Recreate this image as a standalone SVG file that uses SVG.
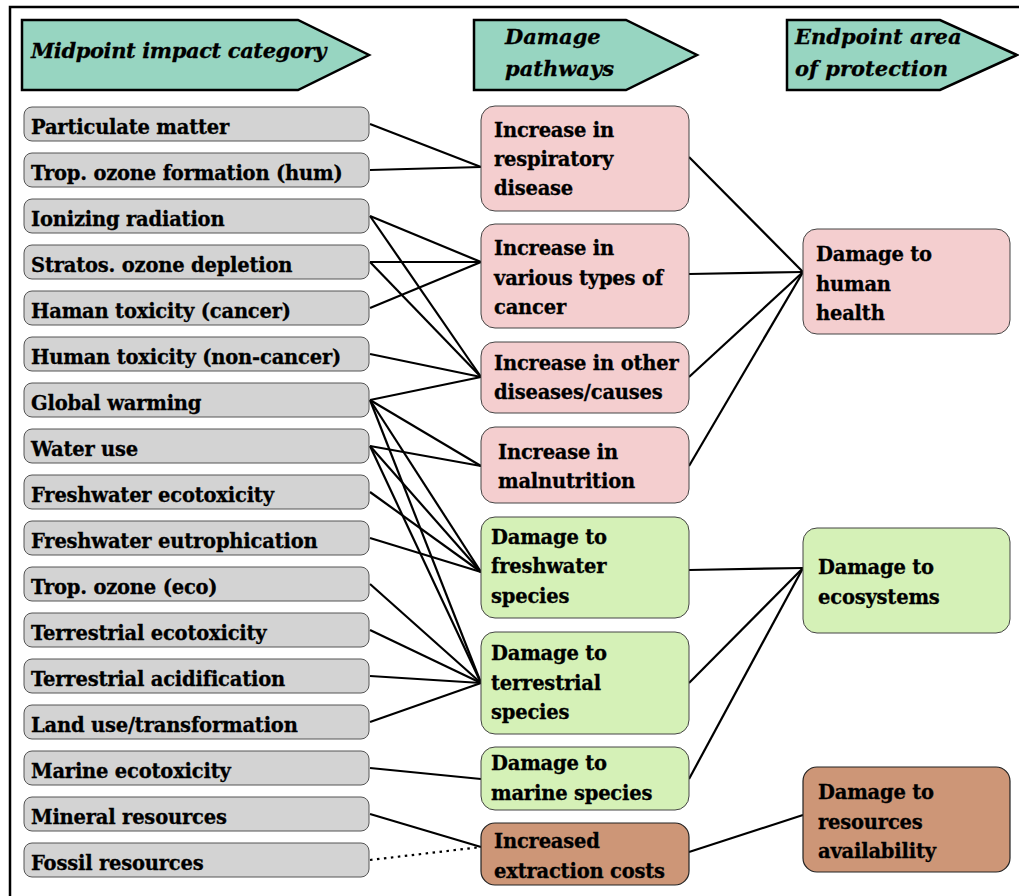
<svg xmlns="http://www.w3.org/2000/svg" width="1019" height="896" viewBox="0 0 1019 896">
<style>
text{font-family:"DejaVu Serif","Liberation Serif",serif;font-weight:bold;font-size:19.5px;fill:#000;stroke:#000;stroke-width:0.3;letter-spacing:-0.2px}
.h{font-style:italic;font-size:21px;letter-spacing:0}
#hdr-midpoint text{letter-spacing:-0.4px}
.hdr{fill:#97d5c1;stroke:#000;stroke-width:2.5;stroke-linejoin:miter}
.l{fill:#d3d3d3;stroke:#555;stroke-width:1}
.p{fill:#f4cecf;stroke:#444;stroke-width:1}
.g{fill:#d5f1b7;stroke:#444;stroke-width:1}
.b{fill:#cd9677;stroke:#222;stroke-width:1.2}
#connectors line{stroke:#000;stroke-width:2.2}
#connectors .dot{stroke-dasharray:2.5 4.5}
</style>
<rect x="10" y="7" width="1030" height="910" fill="#fff" stroke="#000" stroke-width="2.5"/>
<g id="hdr-midpoint"><polygon class="hdr" points="22,20 298,20 369,55 298,90 22,90"/><text class="h" x="31" y="58">Midpoint impact category</text></g>
<g id="hdr-pathways"><polygon class="hdr" points="474,20 626,20 697,55 626,90 474,90"/><text class="h" x="505" y="44">Damage</text><text class="h" x="505" y="76">pathways</text></g>
<g id="hdr-endpoint"><polygon class="hdr" points="787,20 940,20 1017,55 940,90 787,90"/><text class="h" x="795" y="44">Endpoint area</text><text class="h" x="795" y="76">of protection</text></g>
<g id="connectors">
<line x1="370" y1="124" x2="481" y2="167"/>
<line x1="370" y1="170" x2="481" y2="167"/>
<line x1="370" y1="216" x2="481" y2="262"/>
<line x1="370" y1="216" x2="481" y2="377"/>
<line x1="370" y1="262" x2="481" y2="262"/>
<line x1="370" y1="262" x2="481" y2="377"/>
<line x1="370" y1="308" x2="481" y2="262"/>
<line x1="370" y1="354" x2="481" y2="377"/>
<line x1="370" y1="400" x2="481" y2="377"/>
<line x1="370" y1="400" x2="481" y2="466"/>
<line x1="370" y1="400" x2="481" y2="572"/>
<line x1="370" y1="400" x2="481" y2="683"/>
<line x1="370" y1="446" x2="481" y2="466"/>
<line x1="370" y1="446" x2="481" y2="572"/>
<line x1="370" y1="446" x2="481" y2="683"/>
<line x1="370" y1="492" x2="481" y2="572"/>
<line x1="370" y1="538" x2="481" y2="572"/>
<line x1="370" y1="584" x2="481" y2="683"/>
<line x1="370" y1="630" x2="481" y2="683"/>
<line x1="370" y1="676" x2="481" y2="683"/>
<line x1="370" y1="722" x2="481" y2="683"/>
<line x1="370" y1="768" x2="481" y2="779"/>
<line x1="370" y1="814" x2="481" y2="847"/>
<line class="dot" x1="370" y1="860" x2="481" y2="847"/>
<line x1="689" y1="157" x2="803" y2="272"/>
<line x1="689" y1="274" x2="803" y2="272"/>
<line x1="689" y1="377" x2="803" y2="272"/>
<line x1="689" y1="466" x2="803" y2="272"/>
<line x1="689" y1="570" x2="803" y2="568"/>
<line x1="689" y1="683" x2="803" y2="568"/>
<line x1="689" y1="779" x2="803" y2="568"/>
<line x1="689" y1="852" x2="803" y2="815"/>
</g>
<g id="n-pm"><rect class="l" x="24" y="107" width="345" height="34" rx="8"/><text x="31" y="134">Particulate matter</text></g>
<g id="n-tofh"><rect class="l" x="24" y="153" width="345" height="34" rx="8"/><text x="31" y="180">Trop. ozone formation (hum)</text></g>
<g id="n-ir"><rect class="l" x="24" y="199" width="345" height="34" rx="8"/><text x="31" y="226">Ionizing radiation</text></g>
<g id="n-sod"><rect class="l" x="24" y="245" width="345" height="34" rx="8"/><text x="31" y="272">Stratos. ozone depletion</text></g>
<g id="n-htc"><rect class="l" x="24" y="291" width="345" height="34" rx="8"/><text x="31" y="318">Haman toxicity (cancer)</text></g>
<g id="n-htnc"><rect class="l" x="24" y="337" width="345" height="34" rx="8"/><text x="31" y="364">Human toxicity (non-cancer)</text></g>
<g id="n-gw"><rect class="l" x="24" y="383" width="345" height="34" rx="8"/><text x="31" y="410">Global warming</text></g>
<g id="n-wu"><rect class="l" x="24" y="429" width="345" height="34" rx="8"/><text x="31" y="456">Water use</text></g>
<g id="n-fet"><rect class="l" x="24" y="475" width="345" height="34" rx="8"/><text x="31" y="502">Freshwater ecotoxicity</text></g>
<g id="n-feu"><rect class="l" x="24" y="521" width="345" height="34" rx="8"/><text x="31" y="548">Freshwater eutrophication</text></g>
<g id="n-toe"><rect class="l" x="24" y="567" width="345" height="34" rx="8"/><text x="31" y="594">Trop. ozone (eco)</text></g>
<g id="n-tet"><rect class="l" x="24" y="613" width="345" height="34" rx="8"/><text x="31" y="640">Terrestrial ecotoxicity</text></g>
<g id="n-ta"><rect class="l" x="24" y="659" width="345" height="34" rx="8"/><text x="31" y="686">Terrestrial acidification</text></g>
<g id="n-lu"><rect class="l" x="24" y="705" width="345" height="34" rx="8"/><text x="31" y="732">Land use/transformation</text></g>
<g id="n-met"><rect class="l" x="24" y="751" width="345" height="34" rx="8"/><text x="31" y="778">Marine ecotoxicity</text></g>
<g id="n-mr"><rect class="l" x="24" y="797" width="345" height="34" rx="8"/><text x="31" y="824">Mineral resources</text></g>
<g id="n-fr"><rect class="l" x="24" y="843" width="345" height="34" rx="8"/><text x="31" y="870">Fossil resources</text></g>
<g id="n-resp"><rect class="p" x="481" y="106" width="208" height="105" rx="14"/><text x="494" y="137">Increase in</text><text x="494" y="166">respiratory</text><text x="494" y="195">disease</text></g>
<g id="n-canc"><rect class="p" x="481" y="224" width="208" height="104" rx="14"/><text x="494" y="255">Increase in</text><text x="494" y="285">various types of</text><text x="494" y="314">cancer</text></g>
<g id="n-oth"><rect class="p" x="481" y="342" width="208" height="71" rx="14"/><text x="494" y="370">Increase in other</text><text x="494" y="399">diseases/causes</text></g>
<g id="n-maln"><rect class="p" x="481" y="427" width="208" height="76" rx="14"/><text x="498" y="459">Increase in</text><text x="498" y="488">malnutrition</text></g>
<g id="n-fws"><rect class="g" x="481" y="517" width="208" height="101" rx="14"/><text x="491" y="544">Damage to</text><text x="491" y="573">freshwater</text><text x="491" y="603">species</text></g>
<g id="n-trs"><rect class="g" x="481" y="632" width="208" height="102" rx="14"/><text x="491" y="660">Damage to</text><text x="491" y="690">terrestrial</text><text x="491" y="719">species</text></g>
<g id="n-mas"><rect class="g" x="481" y="747" width="208" height="63" rx="14"/><text x="491" y="770">Damage to</text><text x="491" y="800">marine species</text></g>
<g id="n-ext"><rect class="b" x="481" y="823" width="208" height="62" rx="14"/><text x="494" y="848">Increased</text><text x="494" y="878">extraction costs</text></g>
<g id="n-hh"><rect class="p" x="803" y="229" width="207" height="105" rx="14"/><text x="816" y="261">Damage to</text><text x="816" y="291">human</text><text x="816" y="320">health</text></g>
<g id="n-eco"><rect class="g" x="803" y="528" width="207" height="105" rx="14"/><text x="818" y="574">Damage to</text><text x="818" y="604">ecosystems</text></g>
<g id="n-res"><rect class="b" x="803" y="767" width="207" height="105" rx="14"/><text x="818" y="799">Damage to</text><text x="818" y="829">resources</text><text x="818" y="858">availability</text></g>
</svg>
